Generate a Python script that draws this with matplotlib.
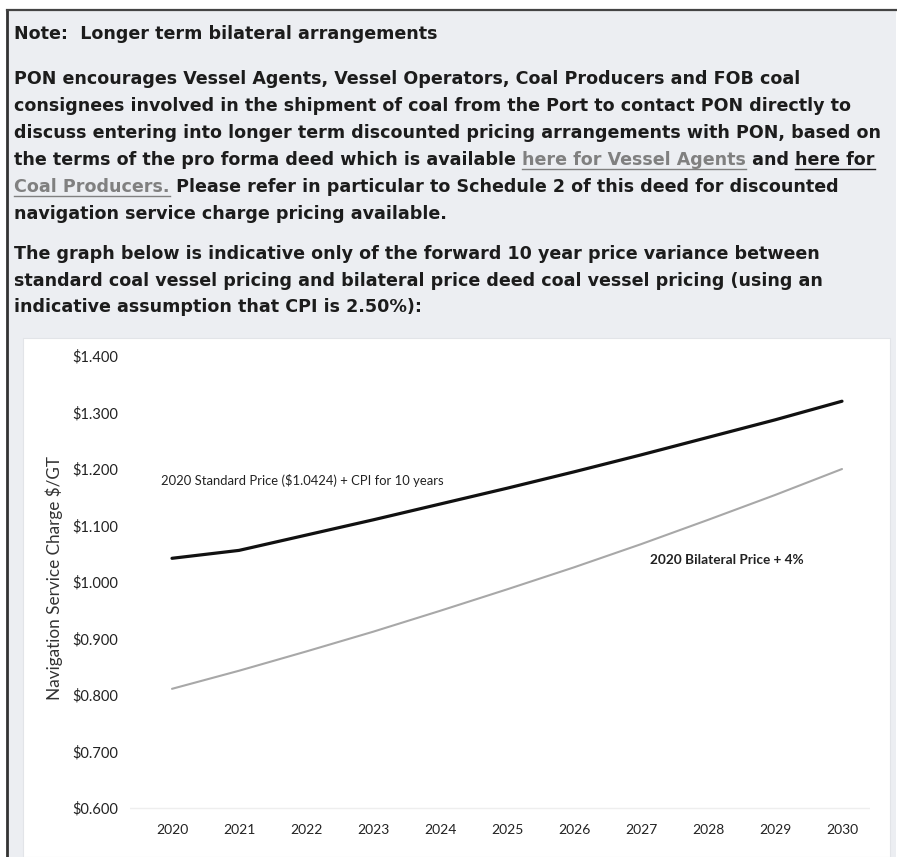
import matplotlib
matplotlib.use("Agg")
import matplotlib.pyplot as plt
from matplotlib.patches import Rectangle
from matplotlib.lines import Line2D

# datos
years = [2020, 2021, 2022, 2023, 2024, 2025, 2026, 2027, 2028, 2029, 2030]
standard = [1.042, 1.056, 1.083, 1.110, 1.138, 1.166, 1.195, 1.225, 1.256, 1.287, 1.320]
bilateral = [0.811, 0.843, 0.877, 0.912, 0.949, 0.987, 1.026, 1.067, 1.110, 1.154, 1.200]
yticks = [0.6, 0.7, 0.8, 0.9, 1.0, 1.1, 1.2, 1.3, 1.4]

W, H = 897, 857
fig = plt.figure(figsize=(W / 100, H / 100), dpi=100)
fig.patch.set_facecolor("white")

def fx(px):
    return px / W

def fy(py):
    return 1 - py / H

# fondo del documento y bordes
fig.patches.append(Rectangle((fx(8), 0), fx(888), fy(11), transform=fig.transFigure,
                             facecolor="#eceef2", edgecolor="none", zorder=0))
fig.lines.append(Line2D([fx(7), fx(7)], [0, fy(10)], transform=fig.transFigure, color="#333333", lw=2))
fig.lines.append(Line2D([fx(7), 1], [fy(10), fy(10)], transform=fig.transFigure, color="#444444", lw=1.6))
# panel blanco del grafico
fig.patches.append(Rectangle((fx(23), 0), fx(867), fy(338), transform=fig.transFigure,
                             facecolor="white", edgecolor="#e2e4e8", lw=0.8, zorder=1))

txt = "#1c1c1c"
link = "#808080"
fam = "DejaVu Sans"
fs = 12.65

def run(s, x, y, color=txt):
    return fig.text(x, y, s, fontsize=fs, fontweight="bold", family=fam, color=color, va="baseline")

x0 = fx(14)
run("Note:  Longer term bilateral arrangements", x0, fy(39))
lines = [
    "PON encourages Vessel Agents, Vessel Operators, Coal Producers and FOB coal",
    "consignees involved in the shipment of coal from the Port to contact PON directly to",
    "discuss entering into longer term discounted pricing arrangements with PON, based on",
]
base = [84, 111, 138]
for s, b in zip(lines, base):
    run(s, x0, fy(b))

# linea con enlaces
underlined = []
t1 = run("the terms of the pro forma deed which is available ", x0, fy(165))
fig.canvas.draw()
r = fig.canvas.get_renderer()

def place_after(prev, s, color=txt):
    bb = prev.get_window_extent(r)
    x, y = prev.get_position()
    t = fig.text(bb.x1 / W, y, s, fontsize=fs, fontweight="bold", family=fam, color=color, va="baseline")
    return t

a = place_after(t1, "here for Vessel Agents", link)
underlined.append(a)
b = place_after(a, " and ")
c = place_after(b, "here for")
underlined.append(c)
d = run("Coal Producers.", x0, fy(192), link)
underlined.append(d)
e = place_after(d, " Please refer in particular to Schedule 2 of this deed for discounted")
run("navigation service charge pricing available.", x0, fy(219))

run("The graph below is indicative only of the forward 10 year price variance between", x0, fy(259))
run("standard coal vessel pricing and bilateral price deed coal vessel pricing (using an", x0, fy(286))
run("indicative assumption that CPI is 2.50%):", x0, fy(312))

for t in underlined:
    bb = t.get_window_extent(r)
    x, y = t.get_position()
    yy = y - 3.5 / H
    fig.lines.append(Line2D([bb.x0 / W, bb.x1 / W], [yy, yy], transform=fig.transFigure,
                            color=t.get_color(), lw=1.0))

# grafico
ax = fig.add_axes([fx(130), fy(812), fx(740), fy(345) - fy(812)])
ax.set_facecolor("white")
ax.set_zorder(2)
ax.plot(years, standard, color="#111111", lw=2.3, solid_capstyle="round")
ax.plot(years, bilateral, color="#a8a8a8", lw=1.5, solid_capstyle="round")
ax.axhline(0.6, color="#eeeeee", lw=1, zorder=0)

ax.set_xlim(2019.373, 2030.418)
ax.set_ylim(0.593, 1.4195)
ax.set_xticks(years)
ax.set_xticklabels([str(y) for y in years], family="Lato", fontsize=10, color="#222222")
ax.set_yticks(yticks)
ax.set_yticklabels([f"${v:.3f}" for v in yticks], family="Lato", fontsize=10.5, color="#222222")
ax.tick_params(length=0, pad=9)
ax.tick_params(axis="y", pad=8.5)
for sp in ax.spines.values():
    sp.set_visible(False)
ax.set_ylabel("Navigation Service Charge $/GT", family="Lato", fontsize=12.3, color="#333333", labelpad=7)

ax.text(2019.83, 1.179, "2020 Standard Price ($1.0424) + CPI for 10 years", family="Lato",
        fontsize=9.4, color="#222222", va="center")
ax.text(2027.13, 1.039, "2020 Bilateral Price + 4%", family="Lato", fontweight="bold",
        fontsize=9.8, color="#222222", va="center")

fig.savefig("out.png", dpi=100, facecolor="white")
